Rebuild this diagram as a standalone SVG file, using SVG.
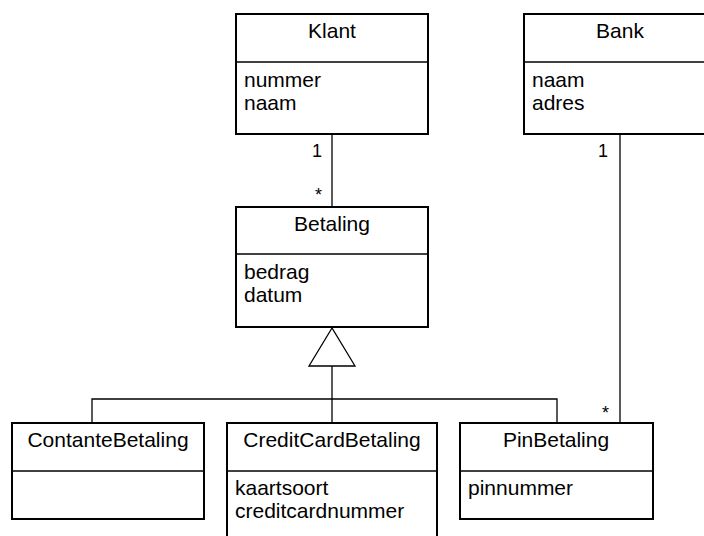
<svg xmlns="http://www.w3.org/2000/svg" width="704" height="536" viewBox="0 0 704 536">
  <style>
    .box { fill: #ffffff; stroke: #000000; stroke-width: 2; }
    .div { stroke: #000000; stroke-width: 1.3; }
    .line { fill: none; stroke: #000000; stroke-width: 1.3; }
    .tri { fill: #ffffff; stroke: #000000; stroke-width: 1.3; }
    text { font-family: "Liberation Sans", Arial, sans-serif; font-size: 21px; fill: #000000; }
    .title { text-anchor: middle; }
    .mult { font-size: 18px; text-anchor: end; }
  </style>
  <rect width="704" height="536" fill="#ffffff"/>

  <!-- connectors -->
  <g id="connectors">
    <line class="line" x1="332" y1="134" x2="332" y2="207"/>
    <line class="line" x1="620" y1="134" x2="620" y2="423"/>
    <polyline class="line" points="92,423 92,399 557,399 557,423"/>
    <line class="line" x1="332" y1="366" x2="332" y2="423"/>
    <polygon class="tri" points="332,328 309,366 355,366"/>
    <text class="mult" x="322" y="157">1</text>
    <text class="mult" x="322" y="201">*</text>
    <text class="mult" x="608" y="157">1</text>
    <text class="mult" x="609" y="419">*</text>
  </g>

  <g id="klant">
    <rect class="box" x="236" y="14" width="192" height="120"/>
    <line class="div" x1="236" y1="62" x2="428" y2="62"/>
    <text class="title" x="332" y="38">Klant</text>
    <text x="244" y="87">nummer</text>
    <text x="244" y="110">naam</text>
  </g>

  <!-- Bank runs past the right edge of the canvas -->
  <g id="bank">
    <rect class="box" x="524" y="14" width="192" height="120"/>
    <line class="div" x1="524" y1="62" x2="716" y2="62"/>
    <text class="title" x="620" y="38">Bank</text>
    <text x="532" y="87">naam</text>
    <text x="532" y="110">adres</text>
  </g>

  <g id="betaling">
    <rect class="box" x="236" y="207" width="192" height="120"/>
    <line class="div" x1="236" y1="254" x2="428" y2="254"/>
    <text class="title" x="332" y="231">Betaling</text>
    <text x="244" y="279">bedrag</text>
    <text x="244" y="302">datum</text>
  </g>

  <g id="contante-betaling">
    <rect class="box" x="12" y="423" width="192" height="96"/>
    <line class="div" x1="12" y1="471" x2="204" y2="471"/>
    <text class="title" x="108" y="447">ContanteBetaling</text>
  </g>

  <g id="creditcard-betaling">
    <rect class="box" x="227" y="423" width="210" height="120"/>
    <line class="div" x1="227" y1="471" x2="437" y2="471"/>
    <text class="title" x="332" y="447">CreditCardBetaling</text>
    <text x="235" y="495">kaartsoort</text>
    <text x="235" y="518">creditcardnummer</text>
  </g>

  <g id="pin-betaling">
    <rect class="box" x="460" y="423" width="193" height="96"/>
    <line class="div" x1="460" y1="471" x2="653" y2="471"/>
    <text class="title" x="556" y="447">PinBetaling</text>
    <text x="468" y="495">pinnummer</text>
  </g>
</svg>
